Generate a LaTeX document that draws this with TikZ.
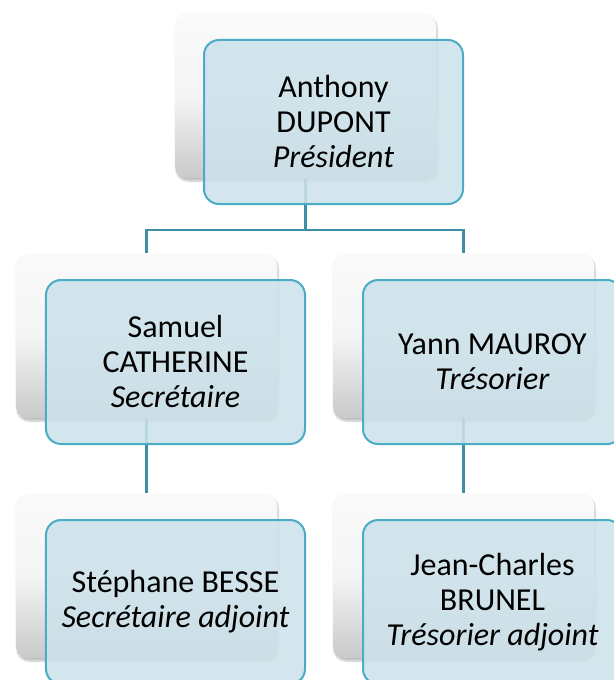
\documentclass[tikz,border=0pt]{standalone}
\usepackage{fontspec}
\setmainfont{Carlito}
\usetikzlibrary{shadows.blur}
\definecolor{frontfill}{RGB}{205,226,234}
\definecolor{frontdraw}{RGB}{75,172,198}
\definecolor{conncol}{RGB}{62,142,166}
\tikzset{
  backbox/.style={rectangle, rounded corners=12bp, minimum width=261bp, minimum height=165bp,
    inner sep=0pt, outer sep=0pt, top color=gray!4, bottom color=gray!42, middle color=gray!8,
    shading angle=0, blur shadow={shadow xshift=1bp, shadow yshift=-3bp, shadow blur steps=6, shadow opacity=25}},
  frontbox/.style={rectangle, rounded corners=15bp, minimum width=259bp, minimum height=164bp,
    inner sep=0pt, outer sep=0pt, draw=frontdraw, line width=2bp, fill=frontfill, fill opacity=0.88,
    text opacity=1, align=center, font=\fontsize{32bp}{35bp}\selectfont},
  conn/.style={draw=conncol, line width=2.4bp}
}
\begin{document}
\begin{tikzpicture}[x=1bp,y=-1bp]
\useasboundingbox (0,0) rectangle (614,680);
\begin{scope}
\clip (0,0) rectangle (614,680);
\path (305.5,95.5) coordinate (pbc);
\path (146.5,335.5) coordinate (sbc);
\path (463.5,335.5) coordinate (tbc);
\path (146.5,575.5) coordinate (sabc);
\path (463.5,575.5) coordinate (tabc);
% connectors
\coordinate (bus) at (305.5,230);
\draw[conn] (pbc) -- (bus);
\draw[conn] (bus) -| (sbc);
\draw[conn] (bus) -| (tbc);
\draw[conn] (sbc) -- (sabc);
\draw[conn] (tbc) -- (tabc);
% back boxes
\node[backbox] (pb) at (pbc) {};
\node[backbox] (sb) at (sbc) {};
\node[backbox] (tb) at (tbc) {};
\node[backbox] (sab) at (sabc) {};
\node[backbox] (tab) at (tabc) {};
% front boxes
\node[frontbox] (p) at (333.5,122) {Anthony\\DUPONT\\\textit{Président}};
\node[frontbox] (s) at (175.5,362) {Samuel\\CATHERINE\\\textit{Secrétaire}};
\node[frontbox] (t) at (492.5,362) {Yann MAUROY\\\textit{Trésorier}};
\node[frontbox] (sa) at (175.5,602) {Stéphane BESSE\\\textit{Secrétaire adjoint}};
\node[frontbox] (ta) at (492.5,602) {Jean-Charles\\BRUNEL\\\textit{Trésorier adjoint}};
\end{scope}
\end{tikzpicture}
\end{document}
